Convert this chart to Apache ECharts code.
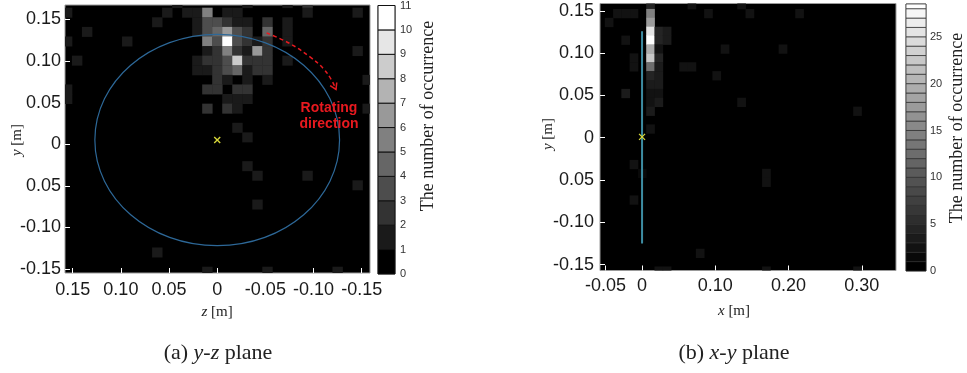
<!DOCTYPE html>
<html>
<head>
<meta charset="utf-8">
<script src="https://cdn.jsdelivr.net/npm/echarts@6/dist/echarts.min.js"></script>
<style>
  html, body { margin: 0; background: #fff; }
  #chart { width: 967px; height: 373px; }
</style>
</head>
<body>
<div id="chart"></div>
<script>
// (a) y-z plane: bin centres [m] and occupied cells [zIndex, yIndex, count]
const yzZBins = [0.156, 0.1456, 0.1352, 0.1248, 0.1144, 0.104, 0.0936, 0.0832, 0.0728, 0.0624, 0.052, 0.0416, 0.0312, 0.0208, 0.0104, 0,
  -0.0104, -0.0208, -0.0312, -0.0416, -0.052, -0.0624, -0.0728, -0.0832, -0.0936, -0.104, -0.1144, -0.1248, -0.1352, -0.1456, -0.156]
const yzYBins = [0.1697, 0.1582, 0.1467, 0.1351, 0.1236, 0.1121, 0.1006, 0.089, 0.0775, 0.066, 0.0545, 0.0429, 0.0314, 0.0199, 0.0084,
  -0.0031, -0.0147, -0.0262, -0.0377, -0.0492, -0.0608, -0.0723, -0.0838, -0.0953, -0.1069, -0.1184, -0.1299, -0.1414, -0.153]
const yzCells = [
  [11, 0, 1], [18, 0, 1], [22, 0, 1], [24, 0, 2],
  [0, 1, 1], [10, 1, 1], [12, 1, 1], [13, 1, 1], [14, 1, 5], [16, 1, 1], [17, 1, 1], [24, 1, 1], [29, 1, 1],
  [9, 2, 1], [13, 2, 1], [14, 2, 3], [15, 2, 3], [16, 2, 2], [17, 2, 1], [18, 2, 1], [20, 2, 2], [22, 2, 1],
  [2, 3, 1], [13, 3, 1], [14, 3, 3], [15, 3, 4], [16, 3, 6], [17, 3, 3], [18, 3, 2], [20, 3, 4], [22, 3, 1],
  [0, 4, 1], [6, 4, 1], [14, 4, 5], [15, 4, 3], [16, 4, 11], [17, 4, 3], [18, 4, 2], [19, 4, 1], [20, 4, 2], [22, 4, 1],
  [14, 5, 1], [15, 5, 2], [16, 5, 5], [17, 5, 2], [18, 5, 1], [19, 5, 6], [20, 5, 2], [29, 5, 1],
  [1, 6, 1], [13, 6, 1], [14, 6, 2], [15, 6, 2], [16, 6, 3], [17, 6, 8], [18, 6, 2], [19, 6, 2], [20, 6, 2], [22, 6, 1],
  [13, 7, 1], [14, 7, 1], [15, 7, 2], [16, 7, 3], [17, 7, 4], [18, 7, 1], [19, 7, 2], [20, 7, 2],
  [15, 8, 2], [16, 8, 1], [18, 8, 1], [20, 8, 1], [30, 8, 1],
  [0, 9, 1], [14, 9, 2], [15, 9, 2], [17, 9, 2], [18, 9, 2],
  [0, 10, 1], [16, 10, 1], [17, 10, 1], [18, 10, 1],
  [14, 11, 2], [16, 11, 2], [17, 11, 1], [30, 11, 1],
  [17, 13, 1], [18, 14, 1], [18, 17, 1], [19, 18, 1], [24, 18, 1], [29, 19, 1], [19, 21, 1],
  [9, 26, 1], [14, 28, 1], [20, 28, 1], [27, 28, 1]
]

// (b) x-y plane: bin centres [m] and occupied cells [xIndex, yIndex, count]
const xyXBins = [-0.0565, -0.0452, -0.0339, -0.0226, -0.0113, 0, 0.0113, 0.0226, 0.0339, 0.0452, 0.0565, 0.0678, 0.0791, 0.0904,
  0.1017, 0.113, 0.1243, 0.1356, 0.1469, 0.1582, 0.1695, 0.1808, 0.1921, 0.2034, 0.2147, 0.226, 0.2373, 0.2486, 0.2599, 0.2712,
  0.2825, 0.2938, 0.3051, 0.3164, 0.3277, 0.339, 0.3503]
const xyYBins = [0.1575, 0.147, 0.1365, 0.126, 0.1155, 0.105, 0.0945, 0.084, 0.0735, 0.063, 0.0525, 0.042, 0.0315, 0.021, 0.0105, 0,
  -0.0105, -0.021, -0.0315, -0.042, -0.0525, -0.063, -0.0735, -0.084, -0.0945, -0.105, -0.1155, -0.126, -0.1365, -0.147, -0.1575]
const xyCells = [
  [6, 0, 4], [6, 1, 14], [6, 2, 17], [6, 3, 25], [6, 4, 28], [6, 5, 19], [6, 6, 22], [6, 7, 12],
  [6, 8, 4], [6, 9, 3], [6, 10, 2], [6, 11, 2], [6, 12, 3], [6, 14, 2],
  [7, 3, 4], [7, 4, 4], [7, 5, 2], [7, 6, 4], [7, 7, 3], [7, 8, 3], [7, 9, 3], [7, 10, 2], [7, 11, 3],
  [8, 3, 3], [8, 4, 3],
  [4, 1, 2], [4, 6, 2], [4, 7, 2], [4, 18, 2], [4, 22, 2],
  [3, 1, 2], [3, 4, 2], [3, 10, 3], [2, 1, 2], [1, 2, 2], [5, 19, 1],
  [10, 7, 2], [11, 7, 2], [11, 0, 2], [13, 1, 2], [14, 8, 2], [15, 5, 2], [17, 11, 2], [17, 0, 2],
  [18, 1, 2], [22, 5, 2], [24, 1, 2], [31, 12, 2], [20, 19, 2], [20, 20, 2], [12, 28, 2],
  [7, 30, 2], [8, 30, 2], [20, 30, 2], [31, 30, 2]
]

// colour bar levels
const yzLevels = [0, 1, 2, 3, 4, 5, 6, 7, 8, 9, 10]
const xyLevels = [0, 1, 2, 3, 4, 5, 6, 7, 8, 9, 10, 11, 12, 13, 14, 15, 16, 17, 18, 19, 20, 21, 22, 23, 24, 25, 26, 27, 28]
const yzBarTicks = [0, 1, 2, 3, 4, 5, 6, 7, 8, 9, 10, 11]
const xyBarTicks = [0, 5, 10, 15, 20, 25]

// axis ticks and labels (as printed in the figure)
const yzZTicks = [0.15, 0.1, 0.05, 0, -0.05, -0.1, -0.15]
const yzZTickLabels = ['0.15', '0.10', '0.05', '0', '-0.05', '-0.10', '-0.15']
const yTicks = [0.15, 0.1, 0.05, 0, -0.05, -0.1, -0.15]
const yTickLabels = ['0.15', '0.10', '0.05', '0', '0.05', '-0.10', '-0.15']
const xyXTicks = [-0.05, 0, 0.1, 0.2, 0.3]
const xyXTickLabels = ['-0.05', '0', '0.10', '0.20', '0.30']

// overlays
const rotorYZ = [[0, 0.005, 0.127]]          // centre z, centre y, radius
const markerYZ = [[0, 0.005]]
const shaftXY = [[0, -0.125], [0, 0.126]]
const markerXY = [[0, 0.001]]
const arrowPath = [[-0.0513, 0.1336], [-0.0755, 0.1209], [-0.0963, 0.1048], [-0.1101, 0.0909], [-0.1188, 0.0768], [-0.1233, 0.0657]]

const RED = '#e8191f'
const SANS = 'Liberation Sans'
const SERIF = 'Liberation Serif'

const chart = echarts.init(document.getElementById('chart'), null, { renderer: 'canvas' })

const pick = (ticks, labels) => v => {
  const i = ticks.findIndex(t => Math.abs(t - v) < 1e-6)
  return i < 0 ? '' : labels[i]
}

const boxOf = p => ({ x: p.coordSys.x, y: p.coordSys.y, width: p.coordSys.width, height: p.coordSys.height })

const cellRender = (w, h) => (params, api) => {
  const c = api.coord([api.value(0), api.value(1)])
  const s = api.size([w, h])
  const rect = echarts.graphic.clipRectByRect(
    { x: c[0] - s[0] / 2, y: c[1] - s[1] / 2, width: s[0] + 0.4, height: s[1] + 0.4 },
    boxOf(params)
  )
  return rect && { type: 'rect', shape: rect, style: { fill: api.visual('color') } }
}

const barRender = (stroke, lw) => (params, api) => {
  const lo = api.coord([0, api.value(1)])
  const hi = api.coord([1, api.value(1) + 1])
  const rect = echarts.graphic.clipRectByRect(
    { x: lo[0], y: hi[1], width: hi[0] - lo[0], height: lo[1] - hi[1] },
    boxOf(params)
  )
  return rect && { type: 'rect', shape: rect, style: { fill: api.visual('color'), stroke: stroke, lineWidth: lw } }
}

const crossRender = (params, api) => {
  const c = api.coord([api.value(0), api.value(1)])
  const st = { stroke: '#d8d83a', lineWidth: 1.3 }
  return {
    type: 'group',
    children: [
      { type: 'line', shape: { x1: c[0] - 3, y1: c[1] - 3, x2: c[0] + 3, y2: c[1] + 3 }, style: st },
      { type: 'line', shape: { x1: c[0] - 3, y1: c[1] + 3, x2: c[0] + 3, y2: c[1] - 3 }, style: st }
    ]
  }
}

const heatAxisLabel = { fontFamily: SANS, fontSize: 18, color: '#1a1a1a' }
const whiteTick = { lineStyle: { color: '#fff', width: 1 } }
const hiddenLine = { show: false, onZero: false }

const option = {
  animation: false,
  backgroundColor: '#fff',
  grid: [
    { left: 65, top: 5, width: 305, height: 268, show: true, backgroundColor: '#000', borderColor: '#9a9a9a', borderWidth: 1 },
    { left: 378, top: 5, width: 17, height: 269, show: true, borderColor: '#777', borderWidth: 1 },
    { left: 600, top: 3.5, width: 296, height: 267, show: true, backgroundColor: '#000', borderColor: '#9a9a9a', borderWidth: 1 },
    { left: 906, top: 4, width: 20, height: 267, show: true, borderColor: '#777', borderWidth: 1 }
  ],
  xAxis: [
    {
      gridIndex: 0, type: 'value', min: -0.1586, max: 0.158, inverse: true, position: 'bottom',
      axisLine: hiddenLine, splitLine: { show: false },
      axisTick: { inside: true, length: 5, customValues: yzZTicks, ...whiteTick },
      axisLabel: { ...heatAxisLabel, margin: 8, customValues: yzZTicks, formatter: pick(yzZTicks, yzZTickLabels) }
    },
    { gridIndex: 1, type: 'value', min: 0, max: 1, show: false },
    {
      gridIndex: 2, type: 'value', min: -0.0574, max: 0.3466, position: 'bottom',
      axisLine: hiddenLine, splitLine: { show: false },
      axisTick: { inside: true, length: 5, customValues: xyXTicks, ...whiteTick },
      axisLabel: { ...heatAxisLabel, margin: 7, customValues: xyXTicks, formatter: pick(xyXTicks, xyXTickLabels) }
    },
    { gridIndex: 3, type: 'value', min: 0, max: 1, show: false }
  ],
  yAxis: [
    {
      gridIndex: 0, type: 'value', min: -0.1548, max: 0.1672, position: 'left',
      axisLine: hiddenLine, splitLine: { show: false },
      axisTick: { inside: true, length: 5, customValues: yTicks, ...whiteTick },
      axisLabel: { ...heatAxisLabel, margin: 4, customValues: yTicks, formatter: pick(yTicks, yTickLabels) }
    },
    {
      gridIndex: 1, type: 'value', min: 0, max: 11, position: 'right',
      axisLine: hiddenLine, splitLine: { show: false }, axisTick: { show: false },
      axisLabel: { fontFamily: SANS, fontSize: 11, color: '#333', margin: 5, customValues: yzBarTicks }
    },
    {
      gridIndex: 2, type: 'value', min: -0.157, max: 0.1587, position: 'left',
      axisLine: hiddenLine, splitLine: { show: false },
      axisTick: { inside: true, length: 5, customValues: yTicks, ...whiteTick },
      axisLabel: { ...heatAxisLabel, margin: 6, customValues: yTicks, formatter: pick(yTicks, yTickLabels) }
    },
    {
      gridIndex: 3, type: 'value', min: 0, max: 28.5, position: 'right',
      axisLine: hiddenLine, splitLine: { show: false }, axisTick: { show: false },
      axisLabel: { fontFamily: SANS, fontSize: 11, color: '#333', margin: 4, customValues: xyBarTicks }
    }
  ],
  visualMap: [
    { type: 'continuous', show: false, seriesIndex: [0, 1], dimension: 2, min: 0, max: 10,
      inRange: { color: ['#000000', '#ffffff'] }, outOfRange: { color: '#ffffff' } },
    { type: 'continuous', show: false, seriesIndex: [2, 3], dimension: 2, min: 0, max: 28,
      inRange: { color: ['#000000', '#ffffff'] }, outOfRange: { color: '#ffffff' } }
  ],
  series: [
    {
      type: 'custom', xAxisIndex: 0, yAxisIndex: 0, silent: true,
      renderItem: cellRender(0.0104, 0.01152),
      data: yzCells.map(c => [yzZBins[c[0]], yzYBins[c[1]], c[2]])
    },
    {
      type: 'custom', xAxisIndex: 1, yAxisIndex: 1, silent: true,
      renderItem: barRender('#111', 1),
      data: yzLevels.map(k => [0, k, k])
    },
    {
      type: 'custom', xAxisIndex: 2, yAxisIndex: 2, silent: true,
      renderItem: cellRender(0.0113, 0.0105),
      data: xyCells.map(c => [xyXBins[c[0]], xyYBins[c[1]], c[2]])
    },
    {
      type: 'custom', xAxisIndex: 3, yAxisIndex: 3, silent: true,
      renderItem: barRender('#2a2a2a', 0.7),
      data: xyLevels.map(k => [0, k, k])
    },
    {
      type: 'custom', xAxisIndex: 0, yAxisIndex: 0, silent: true, z: 5,
      renderItem: (params, api) => {
        const c = api.coord([api.value(0), api.value(1)])
        const s = api.size([api.value(2), api.value(2)])
        return { type: 'ellipse', shape: { cx: c[0], cy: c[1], rx: s[0], ry: s[1] },
          style: { fill: 'none', stroke: '#2d6898', lineWidth: 1.2 } }
      },
      data: rotorYZ
    },
    {
      type: 'line', xAxisIndex: 0, yAxisIndex: 0, silent: true, z: 6,
      smooth: 0.4, symbol: 'none',
      lineStyle: { color: RED, width: 1.5, type: [4, 3] },
      data: arrowPath
    },
    {
      type: 'custom', xAxisIndex: 0, yAxisIndex: 0, silent: true, z: 6,
      renderItem: (params, api) => {
        const tip = api.coord([api.value(0), api.value(1)])
        const from = api.coord([api.value(2), api.value(3)])
        const a = Math.atan2(tip[1] - from[1], tip[0] - from[0])
        const len = 7, spread = 0.55
        const p1 = [tip[0] - len * Math.cos(a - spread), tip[1] - len * Math.sin(a - spread)]
        const p2 = [tip[0] - len * Math.cos(a + spread), tip[1] - len * Math.sin(a + spread)]
        return { type: 'polyline', shape: { points: [p1, tip, p2] }, style: { fill: 'none', stroke: RED, lineWidth: 1.5 } }
      },
      data: [[...arrowPath[arrowPath.length - 1], ...arrowPath[arrowPath.length - 2]]]
    },
    {
      type: 'custom', xAxisIndex: 0, yAxisIndex: 0, silent: true, z: 7,
      renderItem: crossRender, data: markerYZ
    },
    {
      type: 'line', xAxisIndex: 2, yAxisIndex: 2, silent: true, z: 5,
      symbol: 'none', lineStyle: { color: '#3d8ca2', width: 2 },
      data: shaftXY
    },
    {
      type: 'custom', xAxisIndex: 2, yAxisIndex: 2, silent: true, z: 7,
      renderItem: crossRender, data: markerXY
    }
  ],
  graphic: [
    // axis names
    { type: 'text', x: 17, y: 140, rotation: Math.PI / 2,
      style: { text: '{i|y} [m]', rich: { i: { fontStyle: 'italic', fontFamily: SERIF, fontSize: 15 } },
        fontFamily: SERIF, fontSize: 15, fill: '#222', textAlign: 'center', textVerticalAlign: 'middle' } },
    { type: 'text', x: 217, y: 312,
      style: { text: '{i|z} [m]', rich: { i: { fontStyle: 'italic', fontFamily: SERIF, fontSize: 15 } },
        fontFamily: SERIF, fontSize: 15, fill: '#222', textAlign: 'center', textVerticalAlign: 'middle' } },
    { type: 'text', x: 548, y: 134, rotation: Math.PI / 2,
      style: { text: '{i|y} [m]', rich: { i: { fontStyle: 'italic', fontFamily: SERIF, fontSize: 15 } },
        fontFamily: SERIF, fontSize: 15, fill: '#222', textAlign: 'center', textVerticalAlign: 'middle' } },
    { type: 'text', x: 734, y: 311,
      style: { text: '{i|x} [m]', rich: { i: { fontStyle: 'italic', fontFamily: SERIF, fontSize: 15 } },
        fontFamily: SERIF, fontSize: 15, fill: '#222', textAlign: 'center', textVerticalAlign: 'middle' } },
    // colour bar titles
    { type: 'text', x: 428, y: 116, rotation: Math.PI / 2,
      style: { text: 'The number of occurrence', fontFamily: SERIF, fontSize: 18, fill: '#222', textAlign: 'center', textVerticalAlign: 'middle' } },
    { type: 'text', x: 957, y: 128, rotation: Math.PI / 2,
      style: { text: 'The number of occurrence', fontFamily: SERIF, fontSize: 18, fill: '#222', textAlign: 'center', textVerticalAlign: 'middle' } },
    // annotation
    { type: 'text', x: 329, y: 108, z: 10,
      style: { text: 'Rotating', fontFamily: SANS, fontWeight: 'bold', fontSize: 14, fill: RED, textAlign: 'center', textVerticalAlign: 'middle' } },
    { type: 'text', x: 329, y: 124, z: 10,
      style: { text: 'direction', fontFamily: SANS, fontWeight: 'bold', fontSize: 14, fill: RED, textAlign: 'center', textVerticalAlign: 'middle' } },
    // captions
    { type: 'text', x: 218, y: 353,
      style: { text: '(a) {i|y}-{i|z} plane', rich: { i: { fontStyle: 'italic', fontFamily: SERIF, fontSize: 22 } },
        fontFamily: SERIF, fontSize: 22, fill: '#222', textAlign: 'center', textVerticalAlign: 'middle' } },
    { type: 'text', x: 734, y: 353,
      style: { text: '(b) {i|x}-{i|y} plane', rich: { i: { fontStyle: 'italic', fontFamily: SERIF, fontSize: 22 } },
        fontFamily: SERIF, fontSize: 22, fill: '#222', textAlign: 'center', textVerticalAlign: 'middle' } }
  ]
}

chart.setOption(option)
</script>
</body>
</html>
